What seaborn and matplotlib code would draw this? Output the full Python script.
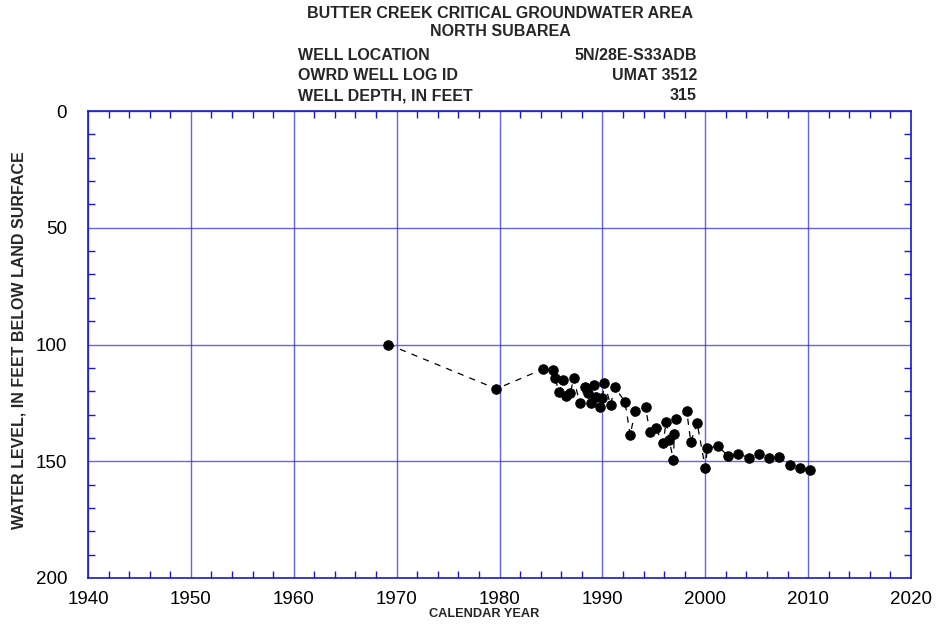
import matplotlib
matplotlib.use("Agg")
import matplotlib.pyplot as plt
from matplotlib.ticker import MultipleLocator
import seaborn as sns
import pandas as pd

years = [1969.2, 1979.7, 1984.2, 1985.2, 1985.4, 1985.8, 1986.2, 1986.5, 1986.9, 1987.2,
         1987.8, 1988.3, 1988.6, 1988.9, 1989.2, 1989.4, 1989.8, 1990.0, 1990.2, 1990.8,
         1991.2, 1992.2, 1992.7, 1993.2, 1994.2, 1994.6, 1995.2, 1995.9, 1996.2, 1996.5,
         1996.9, 1997.0, 1997.2, 1998.2, 1998.6, 1999.2, 2000.0, 2000.2, 2001.2, 2002.2,
         2003.2, 2004.3, 2005.2, 2006.2, 2007.2, 2008.2, 2009.2, 2010.2]
levels = [100.0, 119.0, 110.6, 110.9, 114.5, 120.5, 115.2, 122.0, 120.9, 114.2,
          125.2, 118.3, 120.9, 125.2, 117.3, 122.3, 126.6, 123.0, 116.6, 125.9,
          118.3, 124.5, 138.8, 128.3, 126.9, 137.3, 135.9, 142.3, 133.1, 140.9,
          149.5, 138.3, 132.0, 128.6, 141.9, 133.5, 152.8, 144.5, 143.5, 147.6,
          146.9, 148.5, 146.8, 148.7, 148.0, 151.6, 153.0, 153.9]

x_ticks = [1940, 1950, 1960, 1970, 1980, 1990, 2000, 2010, 2020]
y_ticks = [0, 50, 100, 150, 200]

header_labels = ["WELL LOCATION", "OWRD WELL LOG ID", "WELL DEPTH, IN FEET"]
header_values = ["5N/28E-S33ADB", "UMAT 3512", "315"]

sns.set_theme(style="white")
plt.rcParams['font.family'] = ['Liberation Sans', 'DejaVu Sans']

df = pd.DataFrame({"year": years, "level": levels})

fig = plt.figure(figsize=(9.37, 6.25), dpi=100)
ax = fig.add_axes([88/937, 1 - 578/625, (911-88)/937, (578-111)/625])

sns.lineplot(data=df, x="year", y="level", ax=ax, sort=False, color="black",
             linestyle=(0, (5, 5)), linewidth=0.9, marker="o", markersize=6.8,
             markeredgecolor="black", markerfacecolor="black", zorder=3)

ax.set_xlim(1940, 2020)
ax.set_ylim(200, 0)
ax.set_xticks(x_ticks)
ax.set_yticks(y_ticks)
ax.xaxis.set_minor_locator(MultipleLocator(2))
ax.yaxis.set_minor_locator(MultipleLocator(10))
ax.grid(True, which="major", color="#3030e0", linewidth=1.0, alpha=0.75)
blue = "#1a1acc"
for s in ax.spines.values():
    s.set_color(blue)
    s.set_linewidth(1.2)
ax.tick_params(which="both", direction="in", colors=blue, top=True, right=True,
               bottom=True, left=True, labelcolor="black", labelsize=13.5)
ax.tick_params(which="major", length=0)
ax.tick_params(axis="y", which="major", pad=15)
ax.tick_params(axis="x", which="major", pad=9)
ax.tick_params(which="minor", length=5, width=1)
ax.set_xlabel("CALENDAR YEAR", fontsize=9.2, fontweight="bold")
ax.xaxis.set_label_coords((484 - 88) / (911 - 88), -(614 - 578) / (578 - 111))
ax.xaxis.label.set_va("center")
ax.set_ylabel("WATER LEVEL, IN FEET BELOW LAND SURFACE", fontsize=11.5,
              fontweight="bold")
ax.yaxis.set_label_coords(-(88 - 19) / (911 - 88), 0.51)
ax.yaxis.label.set_va("center")

fig.text(500/937, 1 - 14/625, "BUTTER CREEK CRITICAL GROUNDWATER AREA", ha="center",
         va="center", fontsize=11.5, fontweight="bold")
fig.text(500/937, 1 - 32/625, "NORTH SUBAREA", ha="center", va="center",
         fontsize=11.5, fontweight="bold")
for i, (lab, val) in enumerate(zip(header_labels, header_values)):
    yy = 1 - (55 + i * 20.5) / 625
    fig.text(298/937, yy, lab, ha="left", va="center", fontsize=11.5, fontweight="bold")
    fig.text(697/937, yy, val, ha="right", va="center", fontsize=11.5, fontweight="bold")

fig.savefig("out.png", dpi=100)
